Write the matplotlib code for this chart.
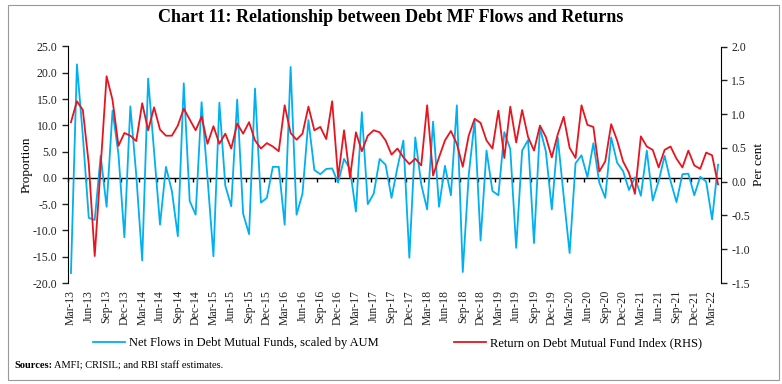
import numpy as np
import pandas as pd
import matplotlib
matplotlib.use('Agg')
import matplotlib.pyplot as plt
from matplotlib.patches import Rectangle

plt.rcParams['font.family'] = ['Liberation Serif', 'DejaVu Serif']
plt.rcParams['axes.unicode_minus'] = False

# Monthly data, Mar-13 to Apr-22
months = pd.date_range('2013-03-01', periods=110, freq='MS').strftime('%b-%y').tolist()

# Net flows in debt mutual funds, scaled by AUM (LHS)
net_flows = [
    -18.1, 21.6, 8.0, -7.6, -8.0, 4.2, -5.5, 12.8, 4.5, -11.3,
    13.6, 0.5, -15.7, 18.9, 5.0, -8.9, 2.1, -2.5, -11.1, 18.0,
    -4.4, -7.0, 14.4, 0.0, -14.9, 14.3, -1.5, -5.4, 14.9, -6.8,
    -10.7, 17.0, -4.7, -3.8, 2.1, 2.1, -8.9, 21.1, -7.0, -3.0,
    11.0, 1.5, 0.7, 1.7, 1.8, -0.9, 3.6, 1.7, -6.4, 12.5,
    -5.0, -3.0, 3.6, 2.5, -3.8, 2.0, 7.1, -15.2, 7.7, -1.2,
    -6.0, 10.7, -5.5, 2.3, -3.3, 13.8, -17.9, 0.5, 10.9, -11.9,
    5.2, -2.5, -3.3, 8.7, 5.5, -13.3, 5.2, 7.2, -12.4, 9.5,
    5.0, -6.0, 7.7, -3.5, -14.3, 2.8, 4.3, 0.1, 6.6, -0.9,
    -3.8, 7.7, 2.9, 1.3, -2.3, 0.1, -3.4, 5.2, -4.3, -0.6,
    4.2, -0.6, -4.6, 0.7, 0.8, -3.3, 0.2, -0.7, -7.9, 2.5,
]

# Return on debt mutual fund index, per cent (RHS)
fund_return = [
    0.88, 1.19, 1.06, 0.26, -1.10, 0.22, 1.56, 1.21, 0.53, 0.72,
    0.68, 0.60, 1.16, 0.76, 1.10, 0.77, 0.68, 0.68, 0.83, 1.08,
    0.92, 0.76, 0.96, 0.56, 0.82, 0.56, 0.71, 0.49, 0.86, 0.71,
    0.88, 0.61, 0.49, 0.57, 0.52, 0.45, 1.13, 0.72, 0.62, 0.71,
    1.11, 0.76, 0.81, 0.63, 1.19, 0.06, 0.76, 0.06, 0.73, 0.45,
    0.68, 0.76, 0.73, 0.61, 0.40, 0.49, 0.36, 0.26, 0.34, 0.24,
    1.13, 0.09, 0.36, 0.61, 0.75, 0.56, 0.22, 0.68, 0.93, 0.87,
    0.61, 0.49, 1.05, 0.35, 1.11, 0.58, 1.06, 0.66, 0.46, 0.83,
    0.66, 0.36, 0.70, 0.96, 0.50, 0.35, 1.13, 0.84, 0.81, 0.15,
    0.30, 0.85, 0.61, 0.30, 0.13, -0.18, 0.67, 0.52, 0.47, 0.21,
    0.47, 0.52, 0.34, 0.21, 0.46, 0.24, 0.19, 0.43, 0.39, -0.04,
]

blue = '#00b0f0'
red = '#e8141e'
x = np.arange(len(months))

fig = plt.figure(figsize=(7.82, 3.84), dpi=100)
ax = fig.add_axes([68 / 782, 1 - 283 / 384, 653 / 782, 236.5 / 384])
ax2 = ax.twinx()

ax.plot(x, net_flows, color=blue, lw=1.3, label='Net Flows in Debt Mutual Funds, scaled by AUM')
ax2.plot(x, fund_return, color=red, lw=1.3, label='Return on Debt Mutual Fund Index (RHS)')

ax.set_xlim(-0.5, len(months) - 0.5)
ax.set_ylim(-20, 25)
ax.set_yticks(np.arange(-20, 26, 5))
ax.set_yticklabels([f'{v:.1f}' for v in np.arange(-20, 26, 5)])
ax2.set_ylim(-1.5, 2.0)
ax2.set_yticks(np.arange(-1.5, 2.01, 0.5))
ax2.set_yticklabels([f'{v:.1f}' for v in np.arange(-1.5, 2.01, 0.5)])

for a in (ax, ax2):
    a.spines['top'].set_visible(False)
    a.spines['bottom'].set_visible(False)
    a.tick_params(axis='y', direction='out', length=4, width=1, labelsize=8.5, colors='#222222')
ax.spines['right'].set_visible(False)
ax2.spines['left'].set_visible(False)

# category labels at the bottom, every quarter
ax.set_xticks(x[::3])
ax.set_xticklabels(months[::3], rotation=90)
ax.tick_params(axis='x', length=0, pad=5, labelsize=8.5, colors='#222222')

# category axis crossing at zero with tick marks between quarters
sec = ax.secondary_xaxis(20 / 45)
sec.set_xticks(np.arange(-0.5, len(months) - 1, 3))
sec.tick_params(axis='x', direction='out', length=3, width=1, labelbottom=False, labeltop=False)
sec.spines['bottom'].set_linewidth(1)

ax.set_ylabel('Proportion', fontsize=9.5, labelpad=0)
ax2.set_ylabel('Per cent', fontsize=9.5, labelpad=2)

fig.text(0.5, 1 - 18 / 384, 'Chart 11: Relationship between Debt MF Flows and Returns',
         ha='center', va='center', fontsize=13, fontweight='bold')

h1, l1 = ax.get_legend_handles_labels()
h2, l2 = ax2.get_legend_handles_labels()
fig.legend(h1 + h2, l1 + l2, loc='center', bbox_to_anchor=(0.508, 1 - 343 / 384), ncol=2,
           frameon=False, fontsize=9, handlelength=2.6, handletextpad=0.3, columnspacing=6.0)

src = fig.text(14 / 782, 1 - 366 / 384, 'Sources:', fontsize=7.5, fontweight='bold', va='center')
fig.canvas.draw()
bb = src.get_window_extent(fig.canvas.get_renderer())
fig.text(bb.x1 / fig.bbox.width + 0.003, 1 - 366 / 384, 'AMFI; CRISIL; and RBI staff estimates.',
         fontsize=7.5, va='center')

fig.patches.append(Rectangle((8 / 782, 4 / 384), 771 / 782, 375 / 384, transform=fig.transFigure,
                             fill=False, edgecolor='#999999', lw=0.8))

fig.savefig('out.png', dpi=100)
